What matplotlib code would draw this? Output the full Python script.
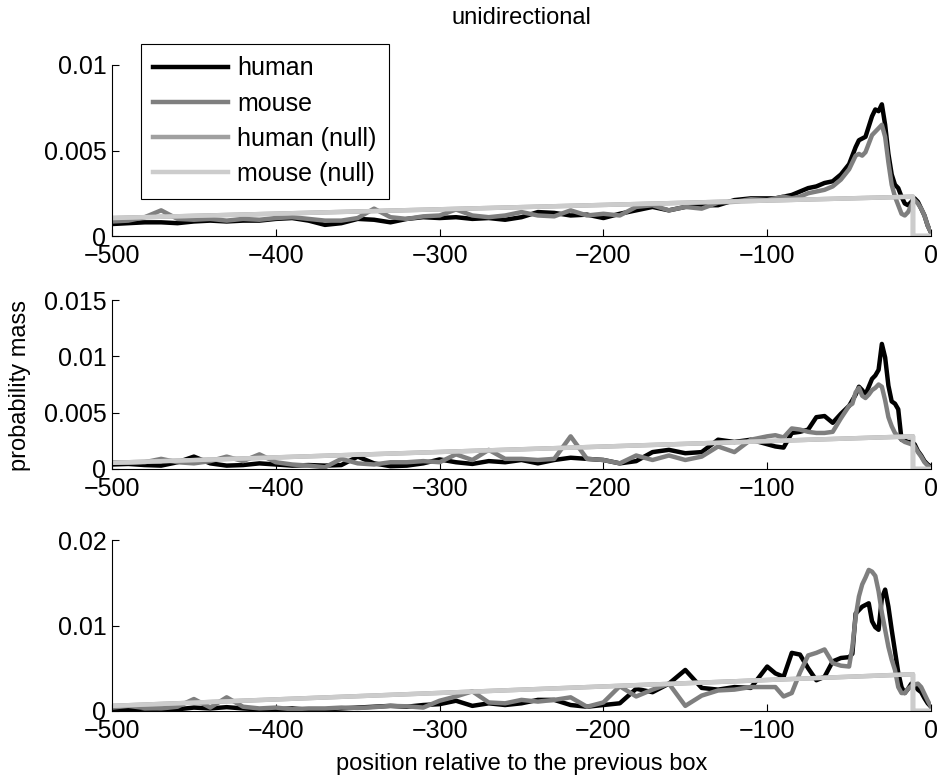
import numpy as np
import matplotlib
matplotlib.use("Agg")
import matplotlib.pyplot as plt
from matplotlib.ticker import FuncFormatter

plt.rcParams['font.family'] = ['Liberation Sans', 'DejaVu Sans']
plt.rcParams['font.size'] = 18

# sample positions (position relative to the previous box)
pos = np.concatenate([np.arange(-500, -100, 10),
                      np.arange(-100, -50, 5),
                      np.arange(-50, 1, 2)])

# values in units of 1e-3
top_human = [0.7, 0.75, 0.8, 0.8, 0.75, 0.85, 0.9, 0.85, 0.9, 0.9,
             1.0, 1.05, 0.9, 0.65, 0.75, 1.0, 0.95, 0.8, 1.0, 1.1,
             1.05, 1.1, 1.0, 1.05, 0.95, 1.1, 1.4, 1.35, 1.2, 1.25,
             1.05, 1.3, 1.5, 1.7, 1.5, 1.7, 1.8, 1.8, 2.1, 2.2,
             2.2, 2.2, 2.3, 2.4, 2.6, 2.8, 2.9, 3.1, 3.2, 3.6,
             4.2, 4.7, 5.2, 5.6, 5.7, 5.8, 6.4, 7.0, 7.4, 7.3,
             7.7, 6.5, 4.8, 3.6, 3.0, 2.8, 2.3, 1.9, 1.8, 2.0,
             2.2, 2.0, 1.6, 1.2, 0.6, 0.2]
top_mouse = [0.85, 0.9, 1.1, 1.5, 1.0, 0.95, 1.0, 0.9, 1.0, 0.95,
             1.05, 1.1, 1.0, 0.9, 0.9, 1.05, 1.6, 1.1, 1.0, 1.15,
             1.2, 1.55, 1.2, 1.1, 1.2, 1.4, 1.2, 1.15, 1.5, 1.2,
             1.3, 1.2, 1.7, 1.8, 1.5, 1.7, 1.6, 1.95, 2.0, 2.15,
             2.1, 2.2, 2.3, 2.2, 2.3, 2.5, 2.6, 2.7, 2.9, 3.3,
             3.9, 4.3, 4.7, 4.8, 4.7, 4.9, 5.4, 5.9, 6.1, 6.3,
             6.5, 5.8, 4.3, 3.0, 2.3, 1.8, 1.3, 1.2, 1.4, 1.8,
             2.1, 1.9, 1.6, 1.2, 0.6, 0.2]

mid_human = [0.4, 0.45, 0.35, 0.3, 0.6, 1.1, 0.5, 0.3, 0.35, 0.5,
             0.4, 0.3, 0.35, 0.3, 0.35, 1.1, 0.5, 0.25, 0.3, 0.5,
             0.85, 0.6, 0.45, 0.7, 0.6, 0.8, 0.5, 0.8, 1.0, 0.9,
             0.8, 0.5, 0.7, 1.5, 1.7, 1.4, 1.5, 2.6, 2.4, 2.6,
             2.2, 2.0, 1.9, 3.2, 3.3, 3.5, 4.6, 4.7, 4.1, 4.9,
             5.6, 6.1, 6.6, 7.3, 7.0, 6.6, 7.3, 8.0, 8.3, 8.8,
             11.1, 9.9, 7.4, 6.0, 5.8, 5.3, 2.6, 2.5, 2.4, 2.4,
             2.2, 1.6, 1.2, 0.7, 0.4, 0.2]
mid_mouse = [0.6, 0.55, 0.6, 0.9, 0.6, 0.5, 0.7, 1.1, 0.7, 1.3,
             0.6, 0.4, 0.3, 0.15, 0.9, 0.5, 0.4, 0.6, 0.6, 0.7,
             0.6, 1.3, 0.8, 1.7, 0.9, 0.9, 0.8, 0.9, 2.9, 0.9,
             0.8, 0.5, 1.2, 0.8, 1.2, 0.8, 1.1, 2.0, 1.5, 2.6,
             2.9, 3.0, 2.8, 3.6, 3.5, 3.3, 3.2, 3.2, 3.3, 4.5,
             5.6, 5.8, 6.8, 7.2, 6.5, 6.3, 6.6, 7.0, 7.2, 7.5,
             7.3, 6.1, 4.6, 3.8, 3.2, 2.9, 2.6, 2.4, 2.3, 2.2,
             2.0, 1.5, 1.1, 0.6, 0.3, 0.1]

bot_human = [0.2, 0.15, 0.3, 0.25, 0.2, 0.4, 0.3, 0.45, 0.3, 0.2,
             0.2, 0.3, 0.15, 0.2, 0.3, 0.4, 0.5, 0.6, 0.5, 0.7,
             0.8, 1.2, 0.6, 0.9, 0.7, 0.9, 1.3, 1.3, 0.7, 0.5,
             0.7, 0.9, 2.6, 2.2, 3.2, 4.8, 2.7, 2.5, 2.8, 2.7,
             5.2, 4.4, 4.0, 6.8, 6.6, 5.0, 3.6, 4.0, 5.8, 6.2,
             6.3, 6.7, 11.4, 11.8, 12.2, 12.4, 12.6, 10.5, 9.8, 9.5,
             13.2, 14.2, 12.2, 9.5, 7.0, 4.5, 2.8, 2.1, 2.6, 3.2,
             3.0, 2.5, 2.2, 1.5, 0.9, 0.5]
bot_mouse = [0.4, 0.6, 0.35, 0.3, 0.5, 1.4, 0.4, 1.6, 0.5, 0.3,
             0.4, 0.2, 0.3, 0.3, 0.4, 0.35, 0.45, 0.6, 0.55, 0.4,
             1.2, 1.7, 2.3, 1.0, 0.9, 1.3, 1.1, 1.3, 1.6, 0.5,
             1.0, 2.9, 1.7, 2.5, 3.2, 0.6, 1.8, 2.4, 2.5, 2.8,
             2.8, 2.8, 1.7, 2.1, 4.5, 6.5, 6.8, 7.2, 5.6, 5.3,
             5.2, 7.5, 11.0, 13.4, 14.8, 15.6, 16.5, 16.3, 15.8, 14.0,
             11.5, 9.5, 7.5, 6.0, 4.8, 2.8, 2.1, 2.1, 2.6, 2.9,
             3.1, 3.2, 2.8, 2.0, 1.2, 0.5]

# null models: a straight ramp that drops to zero near the box
null_x = [-500, -11, -11, 0]
top_null = [1.05, 2.3, 0, 0]
mid_null = [0.55, 2.9, 0, 0]
bot_null = [0.6, 4.3, 0, 0]

panels = [
    (top_human, top_mouse, top_null, [0, 0.005, 0.01]),
    (mid_human, mid_mouse, mid_null, [0, 0.005, 0.01, 0.015]),
    (bot_human, bot_mouse, bot_null, [0, 0.01, 0.02]),
]
labels = ['human', 'mouse', 'human (null)', 'mouse (null)']
colors = ['#000000', '#7f7f7f', '#a0a0a0', '#cccccc']

W, H = 938, 777
fig = plt.figure(figsize=(W / 100, H / 100), dpi=100)
left, right = 112, 931
boxes = [(65, 236), (300, 469), (540, 711)]

axes = []
for (human, mouse, null, yt), (ytop, ybot) in zip(panels, boxes):
    ax = fig.add_axes([left / W, (H - ybot) / H, (right - left) / W, (ybot - ytop) / H])
    scale = 1e-3
    ax.plot(pos, np.array(human) * scale, color=colors[0], lw=3.2, label=labels[0])
    ax.plot(pos, np.array(mouse) * scale, color=colors[1], lw=3.2, label=labels[1])
    ax.plot(null_x, np.array(null) * scale, color=colors[2], lw=3.2, label=labels[2])
    ax.plot(null_x, np.array(null) * scale, color=colors[3], lw=3.2, label=labels[3])
    ax.set_xlim(-500, 0)
    ax.set_ylim(0, yt[-1])
    ax.set_xticks([-500, -400, -300, -200, -100, 0])
    ax.set_yticks(yt)
    ax.yaxis.set_major_formatter(FuncFormatter(lambda v, p: f"{v:g}"))
    ax.spines['top'].set_visible(False)
    ax.spines['right'].set_visible(False)
    for s in ('left', 'bottom'):
        ax.spines[s].set_linewidth(0.8)
    ax.tick_params(direction='in', length=5, width=0.8, labelsize=18)
    ax.tick_params(axis='y', pad=4)
    ax.tick_params(axis='x', pad=6)
    axes.append(ax)

leg = axes[0].legend(loc='upper left', bbox_to_anchor=(0.035, 1.123), borderaxespad=0,
                     fancybox=False, edgecolor='black', framealpha=1, fontsize=18,
                     handlelength=3.0, handletextpad=0.35, labelspacing=0.45, borderpad=0.5)
leg.get_frame().set_linewidth(0.8)
leg.set_zorder(5)

fig.text((left + right) / 2 / W, 1 - 18 / H, 'unidirectional', ha='center', va='center', fontsize=17)
fig.text(20 / W, 1 - 385 / H, 'probability mass', rotation=90, ha='center', va='center', fontsize=17)
fig.text((left + right) / 2 / W, 1 - 764 / H, 'position relative to the previous box',
         ha='center', va='center', fontsize=17)

fig.savefig('out.png', dpi=100)
